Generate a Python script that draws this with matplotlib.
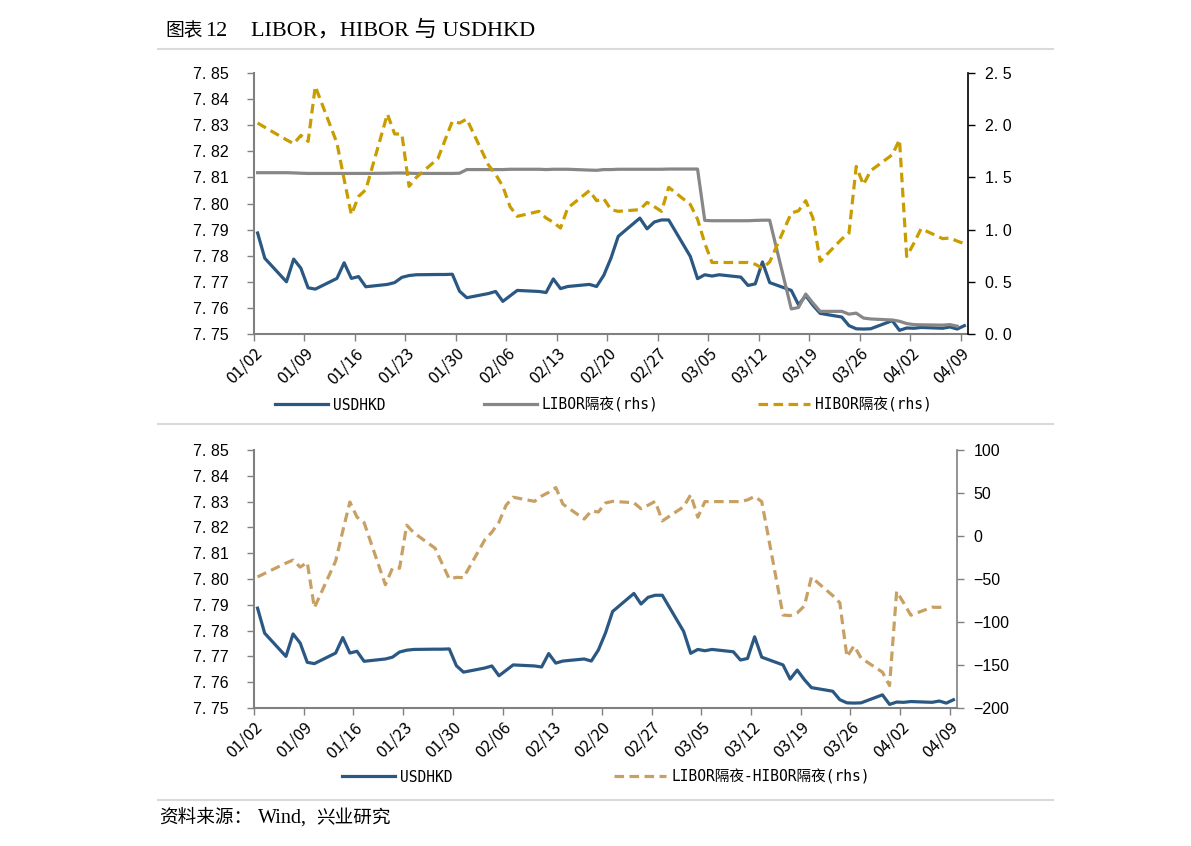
import matplotlib
matplotlib.use('Agg')
import matplotlib.pyplot as plt
from matplotlib.lines import Line2D
from matplotlib.ticker import FuncFormatter, MultipleLocator
from matplotlib.transforms import ScaledTranslation
import matplotlib.dates as mdates
import numpy as np
import pandas as pd

plt.rcParams['font.family'] = ['Liberation Sans', 'Noto Sans CJK SC']

# trading days 2020-01-02 .. 2020-04-09
dates = pd.bdate_range('2020-01-02', '2020-04-09')

usdhkd = [
    # Jan
    7.7887, 7.7790, 7.7700, 7.7787, 7.7752, 7.7677, 7.7672, 7.7713, 7.7773, 7.7713, 7.7720,
    7.7681, 7.7690, 7.7697, 7.7717, 7.7724, 7.7727, 7.7728, 7.7728, 7.7729, 7.7664, 7.7639,
    # Feb
    7.7655, 7.7663, 7.7625, 7.7646, 7.7667, 7.7663, 7.7659, 7.7711, 7.7674, 7.7682,
    7.7690, 7.7682, 7.7725, 7.7791, 7.7874, 7.7944, 7.7903, 7.7929, 7.7937, 7.7937,
    # Mar
    7.7797, 7.7712, 7.7727, 7.7722, 7.7727, 7.7718, 7.7686, 7.7692, 7.7776, 7.7697, 7.7667,
    7.7612, 7.7647, 7.7610, 7.7579, 7.7565, 7.7532, 7.7520, 7.7519, 7.7520, 7.7551, 7.7514,
    # Apr
    7.7523, 7.7522, 7.7525, 7.7522, 7.7527, 7.7519, 7.7532,
]

libor_on = [
    # Jan
    1.545, 1.545, 1.545, 1.543, 1.540, 1.538, 1.538, 1.538, 1.538, 1.538, 1.538,
    1.538, 1.540, 1.542, 1.542, 1.540, 1.538, 1.538, 1.538, 1.538, 1.540, 1.575,
    # Feb
    1.575, 1.575, 1.575, 1.578, 1.578, 1.578, 1.575, 1.578, 1.578, 1.578,
    1.570, 1.568, 1.575, 1.575, 1.578, 1.578, 1.578, 1.578, 1.578, 1.580,
    # Mar
    1.580, 1.580, 1.088, 1.085, 1.085, 1.085, 1.085, 1.088, 1.090, 1.090, 0.240,
    0.254, 0.383, 0.297, 0.217, 0.217, 0.190, 0.200, 0.153, 0.144, 0.134, 0.122,
    # Apr
    0.100, 0.090, 0.088, 0.085, 0.090, 0.075, np.nan,
]

hibor_on = [
    # Jan
    2.021, 1.980, 1.860, 1.823, 1.902, 1.845, 2.372, 1.829, 1.480, 1.143, 1.318,
    1.382, 2.107, 1.916, 1.916, 1.414, 1.500, 1.680, 1.860, 2.037, 2.021, 2.059,
    # Feb
    1.620, 1.530, 1.414, 1.220, 1.127, 1.175, 1.111, 1.070, 1.015, 1.207,
    1.373, 1.277, 1.296, 1.191, 1.175, 1.191, 1.261, 1.220, 1.175, 1.405,
    # Mar
    1.240, 1.100, 0.870, 0.685, 0.685, 0.685, 0.685, 0.668, 0.630, 0.690, 1.159,
    1.180, 1.277, 1.111, 0.696, 0.910, 0.967, 1.605, 1.430, 1.564, 1.717, 1.861,
    # Apr
    0.743, 0.870, 1.009, 0.913, 0.920, 0.890, 0.865,
]

# LIBOR隔夜-HIBOR隔夜, bp
spread_bp = (np.array(libor_on) - np.array(hibor_on)) * 100

tick_dates = pd.date_range('2020-01-02', '2020-04-09', freq='7D')

C_BLUE = '#2B5883'
C_GRAY = '#878787'
C_GOLD = '#C99C00'
C_TAN = '#C9A064'
C_AXIS = '#808080'
DASH = (0, (3, 1.7))

W, H = 1191, 846
fig = plt.figure(figsize=(W / 100, H / 100), dpi=100)

# plot each day in the middle of its slot (Excel date axis style)
xs = dates + pd.Timedelta(hours=12)
x_lo = pd.Timestamp('2020-01-02')
x_hi = pd.Timestamp('2020-04-10')


def style_axes(ax, axr, right_color):
    ax.set_xlim(x_lo, x_hi)
    ax.set_ylim(7.75, 7.85)
    ax.yaxis.set_major_locator(MultipleLocator(0.01))
    ax.yaxis.set_major_formatter(FuncFormatter(lambda v, _: f"{v:.2f}".replace('.', '. ')))
    ax.set_xticks(tick_dates)
    ax.xaxis.set_major_formatter(mdates.DateFormatter('%m/%d'))
    shift = ScaledTranslation(3 / 100, 0, fig.dpi_scale_trans)
    for lab in ax.get_xticklabels():
        lab.set_rotation(45)
        lab.set_ha('right')
        lab.set_va('top')
        lab.set_rotation_mode('anchor')
        lab.set_family(['Noto Sans CJK SC'])
        lab.set_fontsize(11.8)
        lab.set_transform(lab.get_transform() + shift)
    ax.tick_params(axis='x', direction='out', length=5, width=1, color=C_AXIS, pad=3)
    ax.tick_params(axis='y', direction='out', length=5, width=1, color=C_AXIS,
                   labelsize=11.5, pad=13)
    for s in ['top', 'right']:
        ax.spines[s].set_visible(False)
    for s in ['left', 'bottom']:
        ax.spines[s].set_color(C_AXIS)
        ax.spines[s].set_linewidth(1.5)
    for s in ['top', 'left', 'bottom']:
        axr.spines[s].set_visible(False)
    axr.spines['right'].set_color(right_color)
    axr.spines['right'].set_linewidth(1.2)
    axr.tick_params(axis='y', direction='out', length=5, width=1, color=right_color,
                    labelsize=11.5, pad=7)


# ---- top chart ----
ax1 = fig.add_axes([254 / W, 1 - 334 / H, (968 - 254) / W, (334 - 73) / H])
ax1r = ax1.twinx()
ax1.plot(xs, usdhkd, color=C_BLUE, lw=2.3)
ax1r.plot(xs, libor_on, color=C_GRAY, lw=2.3)
ax1r.plot(xs, hibor_on, color=C_GOLD, lw=2.3, ls=DASH)
style_axes(ax1, ax1r, 'black')
ax1r.set_ylim(0, 2.5)
ax1r.yaxis.set_major_locator(MultipleLocator(0.5))
ax1r.yaxis.set_major_formatter(FuncFormatter(lambda v, _: f"{v:.1f}".replace('.', '. ')))

# ---- bottom chart ----
ax2 = fig.add_axes([254 / W, 1 - 708 / H, (957 - 254) / W, (708 - 450) / H])
ax2r = ax2.twinx()
ax2.plot(xs, usdhkd, color=C_BLUE, lw=2.3)
ax2r.plot(xs, spread_bp, color=C_TAN, lw=2.3, ls=DASH)
style_axes(ax2, ax2r, C_AXIS)
ax2r.set_ylim(-200, 100)
ax2r.yaxis.set_major_locator(MultipleLocator(50))
ax2r.yaxis.set_major_formatter(FuncFormatter(lambda v, _: f"{int(round(v))}".replace('-', '\u2212')))

# ---- legends ----
leg_font = {'family': ['DejaVu Sans Mono', 'Noto Sans CJK SC'], 'size': 10.5}
leg_kw = dict(loc='center left', frameon=False, prop=leg_font, handlelength=3.6,
              handletextpad=0.35, borderpad=0, borderaxespad=0)
h_top = [Line2D([], [], color=C_BLUE, lw=2.3),
         Line2D([], [], color=C_GRAY, lw=2.3),
         Line2D([], [], color=C_GOLD, lw=2.3, ls=DASH)]
fig.legend(h_top, ['USDHKD', 'LIBOR隔夜(rhs)', 'HIBOR隔夜(rhs)'],
           bbox_to_anchor=(275 / W, 1 - 405 / H), ncol=3, columnspacing=6.8, **leg_kw)
h_bot = [Line2D([], [], color=C_BLUE, lw=2.3),
         Line2D([], [], color=C_TAN, lw=2.3, ls=DASH)]
fig.legend(h_bot, ['USDHKD', 'LIBOR隔夜-HIBOR隔夜(rhs)'],
           bbox_to_anchor=(342 / W, 1 - 777 / H), ncol=2, columnspacing=11.1, **leg_kw)

# ---- title, separators, source ----
serif_cjk = ['Liberation Serif', 'Noto Sans CJK SC']
ty = 1 - 36 / H
fig.text(165 / W, ty, '图表', ha='left', va='baseline', fontsize=13.5, family=['Noto Sans CJK SC'])
fig.text(205 / W, ty, '12', ha='left', va='baseline', fontsize=16, family=serif_cjk)
fig.text(251.5 / W, ty, 'LIBOR，HIBOR 与 USDHKD', ha='left', va='baseline', fontsize=16,
         family=serif_cjk)
for yy in (49, 424, 800):
    fig.add_artist(Line2D([158 / W, 1053 / W], [1 - yy / H, 1 - yy / H],
                          transform=fig.transFigure, color='#DADADA', lw=1.5))
sy = 1 - 823 / H
fig.text(159 / W, sy, '资料来源：', ha='left', va='baseline', fontsize=13.4,
         family=['Noto Sans CJK SC'])
fig.text(258 / W, sy, 'Wind,', ha='left', va='baseline', fontsize=14.5, family=serif_cjk)
fig.text(316 / W, sy, '兴业研究', ha='left', va='baseline', fontsize=13.4,
         family=['Noto Sans CJK SC'])

fig.savefig('out.png', dpi=100)
